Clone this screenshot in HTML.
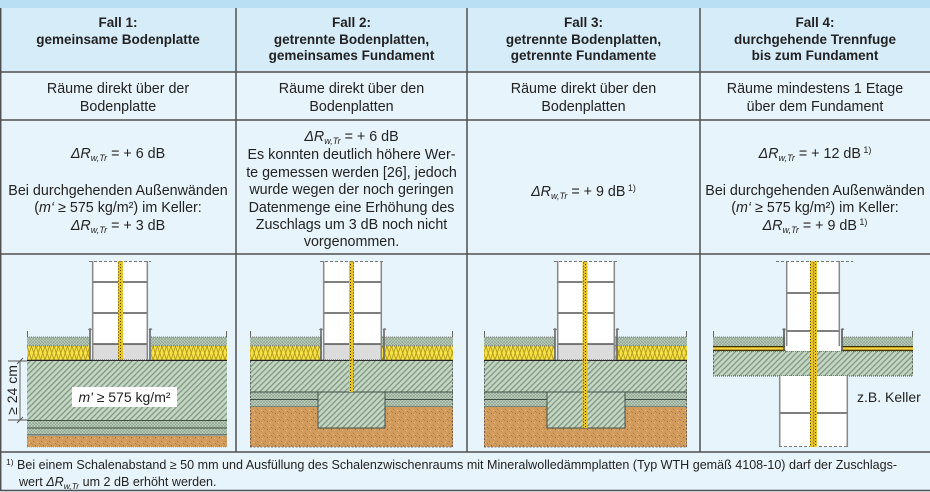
<!DOCTYPE html>
<html><head><meta charset="utf-8">
<style>
html,body{margin:0;padding:0;}
body{width:930px;height:492px;overflow:hidden;background:#e8f4fb;font-family:"Liberation Sans",sans-serif;color:#222;}
#wrap{position:relative;width:930px;height:492px;}
.t{position:absolute;text-align:center;white-space:nowrap;}
.h{font-weight:bold;font-size:13.5px;line-height:16.5px;top:15px;}
.b{font-size:14.3px;line-height:17.4px;}
i{font-style:italic;}
.s{font-size:9px;font-style:italic;position:relative;top:3px;}
.sp{font-size:9px;position:relative;top:-5px;}
</style></head><body><div id="wrap">
<svg width="930" height="492" style="position:absolute;left:0;top:0">
<defs>
<pattern id="dg" width="4" height="4" patternUnits="userSpaceOnUse" patternTransform="rotate(45)"><rect width="4" height="4" fill="#c6d6c4"/><rect width="1.3" height="4" fill="#7e9882"/></pattern>
<pattern id="cx" width="3" height="3" patternUnits="userSpaceOnUse"><rect width="3" height="3" fill="#c4d4c2"/><path d="M0 3L3 0M0 0L3 3" stroke="#8ea492" stroke-width="0.7"/></pattern>
<pattern id="soil" width="8" height="8" patternUnits="userSpaceOnUse"><rect width="8" height="8" fill="#d29b5e"/><rect x="1" y="1" width="1" height="1" fill="#a8743e"/><rect x="5" y="2" width="1" height="1" fill="#eec48c"/><rect x="3" y="5" width="1" height="1" fill="#9a6a36"/><rect x="6" y="6" width="1" height="1" fill="#e9bb80"/><rect x="0" y="4" width="1" height="1" fill="#b98448"/><rect x="7" y="3" width="1" height="1" fill="#b07a42"/></pattern>
<pattern id="ins" x="0" y="346" width="9" height="14" patternUnits="userSpaceOnUse"><rect width="9" height="14" fill="#f6e24a"/><path d="M0 0L4.5 14L9 0M0 14L4.5 0L9 14" fill="none" stroke="#b59a18" stroke-width="0.9"/></pattern>
<pattern id="jt" width="5" height="3" patternUnits="userSpaceOnUse"><rect width="5" height="3" fill="#e6c42a"/><rect x="0" y="0" width="1" height="1" fill="#4a3d00"/><rect x="3" y="1.5" width="1" height="1" fill="#4a3d00"/></pattern>
</defs>
<rect x="0" y="0" width="930" height="8" fill="#b9dff4"/>
<rect x="0" y="8" width="930" height="64" fill="#d6ecf8"/>

<!-- ===== Fall 1 ===== -->
<rect x="27" y="337" width="63" height="9" fill="url(#cx)"/>
<rect x="151" y="337" width="76" height="9" fill="url(#cx)"/>
<path d="M27 337H90M151 337H227" stroke="#555" stroke-width="0.8" stroke-dasharray="1 1"/>
<path d="M27.5 331V337M226.5 331V337" stroke="#666" stroke-width="1"/>
<rect x="27" y="346" width="63" height="14" fill="url(#ins)"/>
<rect x="151" y="346" width="76" height="14" fill="url(#ins)"/>
<path d="M27 346H90M151 346H227" stroke="#555" stroke-width="0.8" stroke-dasharray="1 1"/>
<line x1="27" y1="360.5" x2="227" y2="360.5" stroke="#222" stroke-width="1.5"/>
<rect x="27" y="361" width="200" height="59" fill="url(#dg)"/>
<rect x="27" y="420" width="200" height="15" fill="url(#cx)"/>
<path d="M27 420.5H227M27 428H227M27 435H227" stroke="#3d4d40" stroke-width="1"/>
<rect x="27" y="436" width="200" height="11" fill="url(#soil)"/>
<path d="M27 447H227" stroke="#8a6a40" stroke-width="0.6" stroke-dasharray="1 1"/>
<rect x="92" y="261" width="56" height="99" fill="#fff"/>
<rect x="92" y="344" width="56" height="16" fill="#dcdcdc"/>
<path d="M92 282H118M123 282H148M92 313H118M123 313H148M92 344H118M123 344H148" stroke="#333" stroke-width="1.3"/>
<path d="M92.7 261V360M147.3 261V360" stroke="#888" stroke-width="1.5"/>
<rect x="118" y="261" width="5" height="99" fill="url(#jt)"/>
<line x1="89" y1="261.5" x2="151" y2="261.5" stroke="#777" stroke-width="1" stroke-dasharray="3 2"/>
<path d="M90 329V360M150 329V360" stroke="#666" stroke-width="1.6"/>
<path d="M88.5 330q1.5 -3 3 0M149 330q1.5 -3 3 0" fill="none" stroke="#777" stroke-width="1"/>
<line x1="92" y1="360" x2="148" y2="360" stroke="#444" stroke-width="1" stroke-dasharray="1 1"/>
<rect x="72" y="387" width="105" height="20" fill="#fff"/>
<text x="124.5" y="402" font-family="Liberation Sans, sans-serif" font-size="14" text-anchor="middle" fill="#222"><tspan font-style="italic">m'</tspan> ≥ 575 kg/m²</text>
<path d="M20 361V420M8 361H27M8 420H27" stroke="#555" stroke-width="0.9"/>
<path d="M17 364L23 358M17 423L23 417" stroke="#555" stroke-width="0.9"/>
<text transform="translate(17,390) rotate(-90)" font-family="Liberation Sans, sans-serif" font-size="14" text-anchor="middle" fill="#222">≥ 24 cm</text>

<!-- ===== Fall 2 ===== -->
<rect x="250" y="337" width="72" height="9" fill="url(#cx)"/>
<rect x="382" y="337" width="71" height="9" fill="url(#cx)"/>
<path d="M250 337H322M382 337H453" stroke="#555" stroke-width="0.8" stroke-dasharray="1 1"/>
<path d="M250.5 331V337M452.5 331V337" stroke="#666" stroke-width="1"/>
<rect x="250" y="346" width="72" height="14" fill="url(#ins)"/>
<rect x="382" y="346" width="71" height="14" fill="url(#ins)"/>
<path d="M250 346H322M382 346H453" stroke="#555" stroke-width="0.8" stroke-dasharray="1 1"/>
<line x1="250" y1="360.5" x2="453" y2="360.5" stroke="#222" stroke-width="1.5"/>
<rect x="250" y="361" width="203" height="31" fill="url(#dg)"/>
<rect x="250" y="392" width="203" height="15" fill="url(#cx)"/>
<path d="M250 392H453M250 399.5H453M250 407H453" stroke="#3d4d40" stroke-width="1"/>
<rect x="250" y="407" width="203" height="40" fill="url(#soil)"/>
<path d="M250.5 361V447M452.5 361V447M250 447H453" stroke="#555" stroke-width="0.8" stroke-dasharray="2 1.5"/>
<rect x="318" y="392" width="67" height="36" fill="url(#dg)" stroke="#44524a" stroke-width="1"/>
<rect x="323" y="261" width="59" height="99" fill="#fff"/>
<rect x="323" y="344" width="59" height="16" fill="#dcdcdc"/>
<path d="M323 282H349M354 282H382M323 313H349M354 313H382M323 344H349M354 344H382" stroke="#333" stroke-width="1.3"/>
<path d="M323.7 261V360M381.3 261V360" stroke="#888" stroke-width="1.5"/>
<rect x="349" y="261" width="5" height="131" fill="url(#jt)"/>
<line x1="320" y1="261.5" x2="385" y2="261.5" stroke="#777" stroke-width="1" stroke-dasharray="3 2"/>
<path d="M321 329V360M384 329V360" stroke="#666" stroke-width="1.6"/>
<path d="M319.5 330q1.5 -3 3 0M383 330q1.5 -3 3 0" fill="none" stroke="#777" stroke-width="1"/>
<line x1="323" y1="360" x2="382" y2="360" stroke="#444" stroke-width="1" stroke-dasharray="1 1"/>

<!-- ===== Fall 3 ===== -->
<rect x="484" y="337" width="71" height="9" fill="url(#cx)"/>
<rect x="615" y="337" width="72" height="9" fill="url(#cx)"/>
<path d="M484 337H555M615 337H687" stroke="#555" stroke-width="0.8" stroke-dasharray="1 1"/>
<path d="M484.5 331V337M686.5 331V337" stroke="#666" stroke-width="1"/>
<rect x="484" y="346" width="71" height="14" fill="url(#ins)"/>
<rect x="615" y="346" width="72" height="14" fill="url(#ins)"/>
<path d="M484 346H555M615 346H687" stroke="#555" stroke-width="0.8" stroke-dasharray="1 1"/>
<line x1="484" y1="360.5" x2="687" y2="360.5" stroke="#222" stroke-width="1.5"/>
<rect x="484" y="361" width="203" height="31" fill="url(#dg)"/>
<rect x="484" y="392" width="203" height="15" fill="url(#cx)"/>
<path d="M484 392H687M484 399.5H687M484 407H687" stroke="#3d4d40" stroke-width="1"/>
<rect x="484" y="407" width="203" height="40" fill="url(#soil)"/>
<path d="M484.5 361V447M686.5 361V447M484 447H687" stroke="#555" stroke-width="0.8" stroke-dasharray="2 1.5"/>
<rect x="547" y="392" width="78" height="36" fill="url(#dg)" stroke="#44524a" stroke-width="1"/>
<rect x="557" y="261" width="58" height="99" fill="#fff"/>
<rect x="557" y="344" width="58" height="16" fill="#dcdcdc"/>
<path d="M557 282H583M587 282H615M557 313H583M587 313H615M557 344H583M587 344H615" stroke="#333" stroke-width="1.3"/>
<path d="M557.7 261V360M614.3 261V360" stroke="#888" stroke-width="1.5"/>
<rect x="582.5" y="261" width="5" height="167" fill="url(#jt)"/>
<line x1="554" y1="261.5" x2="618" y2="261.5" stroke="#777" stroke-width="1" stroke-dasharray="3 2"/>
<path d="M555 329V360M617 329V360" stroke="#666" stroke-width="1.6"/>
<path d="M553.5 330q1.5 -3 3 0M616 330q1.5 -3 3 0" fill="none" stroke="#777" stroke-width="1"/>
<line x1="557" y1="360" x2="615" y2="360" stroke="#444" stroke-width="1" stroke-dasharray="1 1"/>

<!-- ===== Fall 4 ===== -->
<rect x="713" y="337" width="72" height="9" fill="url(#cx)"/>
<rect x="842" y="337" width="71" height="9" fill="url(#cx)"/>
<path d="M713 337H785M842 337H913" stroke="#555" stroke-width="0.8" stroke-dasharray="1 1"/>
<path d="M713.5 331V337M912.5 331V337" stroke="#666" stroke-width="1"/>
<rect x="713" y="346" width="72" height="5" fill="#c9a52a"/>
<rect x="842" y="346" width="71" height="5" fill="#c9a52a"/>
<path d="M713 346.5H785M842 346.5H913M713 350.5H785M842 350.5H913" stroke="#3a3000" stroke-width="1"/>
<path d="M713 348.5H785M842 348.5H913" stroke="#f0d640" stroke-width="1"/>
<rect x="713" y="351" width="200" height="25" fill="url(#dg)"/>
<path d="M713 351H913M713 376H913" stroke="#444" stroke-width="0.9" stroke-dasharray="1 1"/>
<path d="M713.5 351V376M912.5 351V376" stroke="#555" stroke-width="0.8" stroke-dasharray="2 1.5"/>
<rect x="786" y="261" width="54" height="90" fill="#fff"/>
<path d="M786 293H810M817 293H840M786 331H810M817 331H840" stroke="#333" stroke-width="1.3"/>
<path d="M786.7 261V346M839.3 261V346" stroke="#888" stroke-width="1.5"/>
<line x1="776" y1="261.5" x2="853" y2="261.5" stroke="#777" stroke-width="1" stroke-dasharray="3 2"/>
<path d="M784 329V351M842 329V351" stroke="#555" stroke-width="1.6"/>
<path d="M782.5 330q1.5 -3 3 0M841 330q1.5 -3 3 0" fill="none" stroke="#777" stroke-width="1"/>
<rect x="779" y="376" width="69" height="71" fill="#fff"/>
<path d="M779 413H810M817 413H848" stroke="#333" stroke-width="1.3"/>
<path d="M779.7 376V447M847.3 376V447" stroke="#888" stroke-width="1.5"/>
<line x1="779" y1="446.5" x2="848" y2="446.5" stroke="#777" stroke-width="1" stroke-dasharray="3 2"/>
<rect x="810" y="261" width="7" height="186" fill="url(#jt)"/>
<text x="857" y="402" font-family="Liberation Sans, sans-serif" font-size="14" fill="#222">z.B. Keller</text>

<g stroke="#505050" stroke-width="1.5">
<line x1="0" y1="72" x2="930" y2="72"/>
<line x1="0" y1="120" x2="930" y2="120"/>
<line x1="0" y1="254" x2="930" y2="254"/>
<line x1="0" y1="452" x2="930" y2="452"/>
<line x1="0" y1="490.5" x2="930" y2="490.5"/>
<line x1="236" y1="8" x2="236" y2="452"/>
<line x1="467" y1="8" x2="467" y2="452"/>
<line x1="700" y1="8" x2="700" y2="452"/>
<line x1="0.7" y1="8" x2="0.7" y2="491"/>
</g>
</svg>

<div class="t h" style="left:0;width:236px;">Fall 1:<br>gemeinsame Bodenplatte</div>
<div class="t h" style="left:236px;width:231px;">Fall 2:<br>getrennte Bodenplatten,<br>gemeinsames Fundament</div>
<div class="t h" style="left:467px;width:233px;">Fall 3:<br>getrennte Bodenplatten,<br>getrennte Fundamente</div>
<div class="t h" style="left:700px;width:230px;">Fall 4:<br>durchgehende Trennfuge<br>bis zum Fundament</div>

<div class="t b" style="left:0;width:236px;top:80px;line-height:18px;">Räume direkt über der<br>Bodenplatte</div>
<div class="t b" style="left:236px;width:231px;top:80px;line-height:18px;">Räume direkt über den<br>Bodenplatten</div>
<div class="t b" style="left:467px;width:233px;top:80px;line-height:18px;">Räume direkt über den<br>Bodenplatten</div>
<div class="t b" style="left:700px;width:230px;top:80px;line-height:18px;">Räume mindestens 1 Etage<br>über dem Fundament</div>

<div class="t b" style="left:0;width:236px;top:146px;"><i>ΔR</i><span class="s">w,Tr</span> = + 6 dB</div>
<div class="t b" style="left:0;width:236px;top:183px;">Bei durchgehenden Außenwänden<br>(<i>m‘</i> ≥ 575 kg/m²) im Keller:<br><i>ΔR</i><span class="s">w,Tr</span> = + 3 dB</div>

<div class="t b" style="left:236px;width:231px;top:129px;"><i>ΔR</i><span class="s">w,Tr</span> = + 6 dB<br>Es konnten deutlich höhere Wer-<br>te gemessen werden [26], jedoch<br>wurde wegen der noch geringen<br>Datenmenge eine Erhöhung des<br>Zuschlags um 3 dB noch nicht<br>vorgenommen.</div>

<div class="t b" style="left:467px;width:233px;top:184px;"><i>ΔR</i><span class="s">w,Tr</span> = + 9 dB<span class="sp"> 1)</span></div>

<div class="t b" style="left:700px;width:230px;top:146px;"><i>ΔR</i><span class="s">w,Tr</span> = + 12 dB<span class="sp"> 1)</span></div>
<div class="t b" style="left:700px;width:230px;top:183px;">Bei durchgehenden Außenwänden<br>(<i>m‘</i> ≥ 575 kg/m²) im Keller:<br><i>ΔR</i><span class="s">w,Tr</span> = + 9 dB<span class="sp"> 1)</span></div>

<div class="t" style="left:6px;top:457px;font-size:12.55px;line-height:16px;text-align:left;"><span style="font-size:8.5px;position:relative;top:-4px;">1)</span> Bei einem Schalenabstand ≥ 50 mm und Ausfüllung des Schalenzwischenraums mit Mineralwolledämmplatten (Typ WTH gemäß 4108-10) darf der Zuschlags-<br><span style="padding-left:13px;">wert <i>ΔR</i><span style="font-size:8.5px;font-style:italic;position:relative;top:3px;">w,Tr</span> um 2 dB erhöht werden.</span></div>
</div></body></html>
